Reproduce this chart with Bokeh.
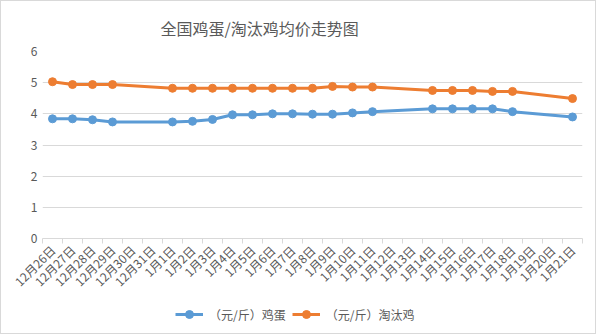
from bokeh.plotting import figure
from bokeh.layouts import column
from bokeh.models import FixedTicker, Legend, LegendItem, ColumnDataSource, Range1d
from bokeh.embed import file_html
from bokeh.resources import INLINE
import math

title = "全国鸡蛋/淘汰鸡均价走势图"
categories = ["12月26日", "12月27日", "12月28日", "12月29日", "12月30日", "12月31日",
              "1月1日", "1月2日", "1月3日", "1月4日", "1月5日", "1月6日", "1月7日",
              "1月8日", "1月9日", "1月10日", "1月11日", "1月12日", "1月13日", "1月14日",
              "1月15日", "1月16日", "1月17日", "1月18日", "1月19日", "1月20日", "1月21日"]
egg = [3.84, 3.84, 3.81, 3.74, None, None, 3.74, 3.76, 3.82, 3.97, 3.97, 4.00, 4.00,
       3.99, 3.99, 4.03, 4.07, None, None, 4.16, 4.16, 4.16, 4.16, 4.07, None, None, 3.90]
hen = [5.03, 4.94, 4.94, 4.94, None, None, 4.82, 4.82, 4.82, 4.82, 4.82, 4.82, 4.82,
       4.82, 4.88, 4.86, 4.86, None, None, 4.75, 4.75, 4.75, 4.72, 4.72, None, None, 4.49]
series_names = ["（元/斤）鸡蛋", "（元/斤）淘汰鸡"]
colors = ["#5B9BD5", "#ED7D31"]
y_ticks = [0, 1, 2, 3, 4, 5, 6]

FONT = "Noto Sans CJK SC"
TXT = "#595959"
GRID = "#d9d9d9"

n = len(categories)
centers = [i + 0.5 for i in range(n)]
bounds = [i for i in range(n + 1)]

p = figure(width=594, height=300, output_backend="svg", toolbar_location=None,
           x_range=(0, n), y_range=(0, 6), title=title,
           min_border_left=41, min_border_right=13, min_border_top=50, min_border_bottom=63)
p.outline_line_color = None
p.background_fill_color = "white"
p.border_fill_color = "white"

p.title.text_font = FONT
p.title.text_font_size = "16px"
p.title.text_font_style = "normal"
p.title.text_color = TXT
p.title.align = "left"
p.title.offset = 118
p.title.standoff = 19
p.title.vertical_align = "top"

p.xaxis.ticker = FixedTicker(ticks=centers, minor_ticks=bounds)
p.xaxis.major_label_overrides = {c: lab for c, lab in zip(centers, categories)}
p.xaxis.major_label_orientation = math.pi / 4
p.xaxis.major_tick_out = 0
p.xaxis.major_tick_in = 0
p.xaxis.minor_tick_out = 5
p.xaxis.minor_tick_in = 0
p.xaxis.minor_tick_line_color = GRID
p.xaxis.axis_line_color = GRID
p.xaxis.major_label_text_font = FONT
p.xaxis.major_label_text_font_size = "12px"
p.xaxis.major_label_text_color = TXT
p.xaxis.major_label_standoff = 4

p.yaxis.ticker = FixedTicker(ticks=y_ticks)
p.yaxis.axis_line_color = None
p.yaxis.major_tick_line_color = None
p.yaxis.major_tick_out = 0
p.yaxis.major_tick_in = 0
p.yaxis.minor_tick_line_color = None
p.yaxis.major_label_text_font = FONT
p.yaxis.major_label_text_font_size = "12px"
p.yaxis.major_label_text_color = TXT
p.yaxis.major_label_standoff = 5

p.xgrid.grid_line_color = None
p.ygrid.grid_line_color = GRID
p.ygrid.ticker = FixedTicker(ticks=y_ticks[1:])

# legend strip: same series drawn outside its visible range, only the legend shows
lg = figure(width=594, height=32, output_backend="svg", toolbar_location=None,
            x_range=Range1d(0, n), y_range=Range1d(100, 101), min_border=0,
            x_axis_location=None, y_axis_location=None)
lg.grid.visible = False
lg.outline_line_color = None
lg.background_fill_color = "white"
lg.border_fill_color = "white"

items = []
for name, vals, col in zip(series_names, [egg, hen], colors):
    xs = [c for c, v in zip(centers, vals) if v is not None]
    ys = [v for v in vals if v is not None]
    src = ColumnDataSource(dict(x=xs, y=ys))
    p.line("x", "y", source=src, line_color=col, line_width=3)
    p.scatter("x", "y", source=src, size=8, fill_color=col, line_color=col)
    r1 = lg.line("x", "y", source=src, line_color=col, line_width=3)
    r2 = lg.scatter("x", "y", source=src, size=8, fill_color=col, line_color=col)
    items.append(LegendItem(label=name, renderers=[r1, r2]))

legend = Legend(items=items, orientation="horizontal", location=(133, 9),
                padding=0, margin=0, spacing=6, glyph_width=28, glyph_height=20,
                label_standoff=6, border_line_color=None, background_fill_alpha=0,
                label_text_font=FONT, label_text_font_size="12px", label_text_color=TXT)
lg.add_layout(legend, "center")

layout = column(p, lg, spacing=0)
layout.styles = {"border": "1px solid #d9d9d9"}

open("out.html", "w").write(file_html(layout, INLINE))
